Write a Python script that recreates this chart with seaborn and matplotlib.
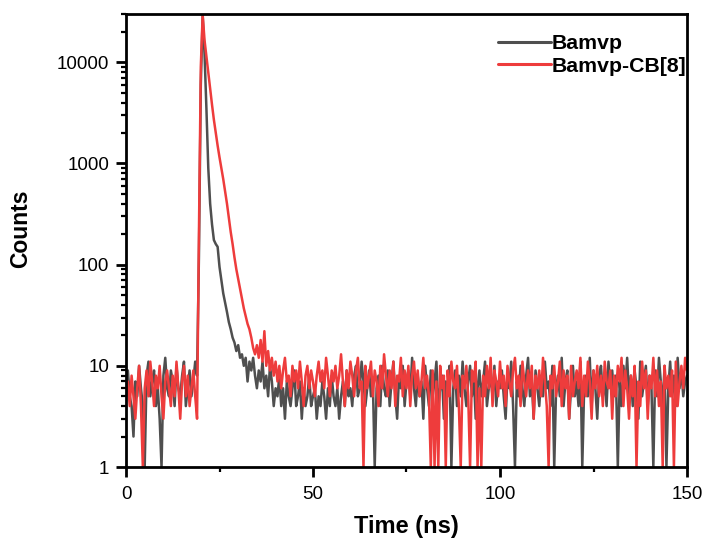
import numpy as np
import pandas as pd
import matplotlib
matplotlib.use("Agg")
import matplotlib.pyplot as plt
import matplotlib.ticker as mticker
import seaborn as sns

# ---------------- data, time step 0.5 ns ----------------
time_ns = [round(0.5 * i, 1) for i in range(301)]

gray_pre = [6, 9, 5, 4, 2, 7, 5, 10, 6, 4, 1, 8, 11, 5, 7, 9, 4, 6, 3, 1,
            8, 12, 6, 5, 9, 7, 4, 10, 6, 5, 8, 11, 4, 6, 9, 5, 7, 11]
gray_rise = [8, 120, 6000]
gray_decay = [29000, 12000, 3500, 900, 400, 250, 175, 160, 150, 95,
              70, 52, 42, 34, 27, 23, 19, 17, 14, 16,
              12, 13, 10, 12, 7, 11, 9, 12, 8, 6]
gray_tail = [9, 7, 11, 6, 8, 5, 10, 7, 4, 6,
             5, 8, 4, 6, 3, 7, 5, 4, 6, 9,
             4, 5, 7, 3, 6, 4, 5, 8, 4, 5,
             6, 3, 5, 4, 7, 5, 3, 6, 4, 8,
             5, 4, 6, 3, 5, 7, 4, 9, 5, 6,
             4, 8, 10, 5, 6, 11, 7, 4, 6, 9,
             5, 7, 1, 6, 8, 4, 10, 6, 5, 9,
             4, 7, 11, 5, 3, 8, 6, 10, 4, 7,
             9, 5, 12, 6, 4, 8, 5, 7, 3, 10,
             6, 4, 9, 5, 7, 11, 4, 6, 8, 3,
             7, 5, 10, 1, 6, 9, 4, 8, 5, 11,
             6, 4, 7, 10, 5, 8, 3, 6, 9, 5,
             7, 11, 4, 6, 8, 5, 10, 4, 7, 6,
             9, 5, 3, 8, 6, 11, 4, 1, 7, 5,
             10, 6, 4, 8, 12, 5, 7, 3, 9, 6,
             4, 8, 5, 11, 6, 7, 4, 10, 1, 6,
             8, 5, 12, 4, 7, 9, 3, 6, 10, 5,
             7, 4, 11, 1, 6, 8, 5, 12, 4, 9,
             6, 3, 8, 10, 5, 7, 4, 11, 6, 9,
             5, 8, 1, 7, 4, 10, 6, 12, 5, 8,
             4, 9, 6, 3, 11, 5, 7, 10, 4, 8,
             6, 1, 9, 5, 12, 7, 4, 10, 1, 6,
             11, 5, 8, 4, 12, 6, 9, 5, 7, 8]

red_pre = [5, 7, 4, 8, 5, 3, 6, 10, 4, 1, 6, 9, 5, 11, 7, 4, 8, 6, 10, 5,
           3, 7, 9, 6, 4, 8, 5, 11, 6, 3, 7, 10, 5, 8, 4, 6, 9, 5]
red_rise = [3, 200, 9000]
red_decay = [29500, 16500, 11500, 8000, 5500, 3800, 2700, 2000, 1500, 1150,
             900, 700, 530, 400, 290, 210, 160, 118, 90, 72,
             58, 46, 37, 31, 26, 23, 19, 15, 13, 16]
red_tail = [12, 18, 11, 22, 10, 14, 9, 12, 8, 11,
            7, 10, 6, 9, 12, 7, 8, 5, 10, 7,
            9, 6, 11, 7, 4, 8, 10, 6, 9, 7,
            5, 8, 11, 7, 9, 6, 12, 8, 5, 9,
            7, 10, 6, 8, 13, 7, 4, 9, 6, 11,
            8, 5, 9, 12, 6, 7, 1, 10, 6, 8,
            11, 5, 9, 7, 4, 10, 6, 13, 8, 5,
            9, 6, 11, 4, 8, 7, 12, 5, 9, 6,
            10, 4, 8, 11, 6, 9, 5, 7, 12, 6,
            8, 5, 1, 9, 1, 7, 1, 10, 6, 8,
            1, 9, 5, 11, 7, 6, 10, 4, 1, 8,
            6, 10, 5, 1, 9, 7, 11, 1, 6, 1,
            8, 5, 10, 6, 12, 4, 9, 7, 5, 11,
            6, 8, 4, 10, 7, 5, 9, 12, 6, 8,
            4, 11, 7, 5, 9, 6, 10, 3, 8, 6,
            9, 5, 12, 7, 4, 1, 8, 6, 10, 5,
            7, 11, 4, 9, 6, 8, 3, 10, 5, 7,
            9, 6, 12, 4, 8, 5, 11, 7, 3, 9,
            6, 10, 5, 8, 4, 11, 7, 6, 9, 3,
            8, 5, 10, 7, 12, 4, 9, 6, 3, 8,
            5, 10, 1, 7, 4, 11, 6, 9, 3, 8,
            6, 12, 5, 9, 4, 7, 1, 10, 6, 8,
            5, 9, 1, 11, 4, 7, 10, 6, 12, 9]

series_names = ["Bamvp", "Bamvp-CB[8]"]
series_colors = ["#4f4f4f", "#ee3c3c"]
y_ticks = [1, 10, 100, 1000, 10000]
y_tick_labels = ["1", "10", "100", "1000", "10000"]
x_ticks = [0, 50, 100, 150]

gray_counts = gray_pre + gray_rise + gray_decay + gray_tail
red_counts = red_pre + red_rise + red_decay + red_tail

df = pd.concat([
    pd.DataFrame({"Time": time_ns, "Counts": gray_counts, "Sample": series_names[0]}),
    pd.DataFrame({"Time": time_ns, "Counts": red_counts, "Sample": series_names[1]}),
], ignore_index=True)

# ---------------- plot ----------------
sns.set_style("ticks")
plt.rcParams["font.family"] = ["Liberation Sans", "DejaVu Sans"]
for k in ["text.color", "axes.labelcolor", "xtick.color", "ytick.color", "axes.edgecolor"]:
    plt.rcParams[k] = "black"

fig = plt.figure(figsize=(7.07, 5.41), dpi=100)
ax = fig.add_axes([126 / 707, 1 - 467 / 541, (687 - 126) / 707, (467 - 14) / 541])

sns.lineplot(data=df, x="Time", y="Counts", hue="Sample",
             palette=dict(zip(series_names, series_colors)),
             linewidth=1.8, ax=ax, estimator=None, sort=False)

ax.set_yscale("log")
ax.set_xlim(0, 150)
ax.set_ylim(1, 30000)

ax.yaxis.set_major_locator(mticker.FixedLocator(y_ticks))
ax.yaxis.set_major_formatter(mticker.FixedFormatter(y_tick_labels))
ax.yaxis.set_minor_locator(mticker.LogLocator(base=10, subs=np.arange(2, 10), numticks=20))
ax.yaxis.set_minor_formatter(mticker.NullFormatter())
ax.xaxis.set_major_locator(mticker.FixedLocator(x_ticks))
ax.xaxis.set_minor_locator(mticker.MultipleLocator(25))

ax.tick_params(which="major", direction="out", length=7, width=2, labelsize=13.5, colors="black")
ax.tick_params(axis="x", which="major", pad=7)
ax.tick_params(axis="y", which="major", pad=5)
ax.tick_params(which="minor", direction="out", length=3.5, width=1.6, colors="black")
for sp in ax.spines.values():
    sp.set_visible(True)
    sp.set_linewidth(2)
    sp.set_color("black")

ax.set_xlabel("Time (ns)", fontsize=17, fontweight="bold")
ax.xaxis.set_label_coords(0.5, -0.105)
ax.set_ylabel("Counts", fontsize=16.5, fontweight="bold")
ax.yaxis.set_label_coords(-0.168, 0.527)

leg = ax.legend(loc="upper right", bbox_to_anchor=(0.999, 0.955), frameon=False,
                handlelength=2.5, handletextpad=0.05, labelspacing=0.15,
                borderpad=0.0, borderaxespad=0.0,
                prop={"weight": "bold", "size": 15.3})
for line in leg.get_lines():
    line.set_linewidth(2.2)

fig.savefig("out.png", dpi=100)
